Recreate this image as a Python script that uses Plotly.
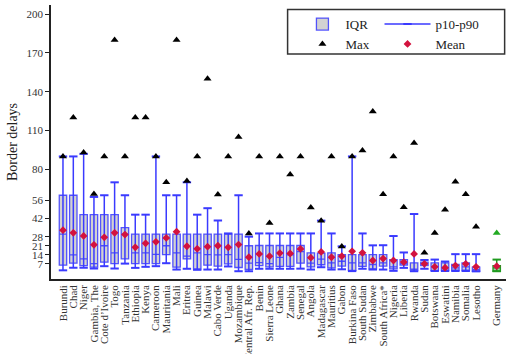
import plotly.graph_objects as go

countries = ["Burundi", "Chad", "Niger", "Gambia, The", "Cote d\u2019Ivoire", "Togo", "Tanzania",
             "Ethiopia", "Kenya", "Cameroon", "Mauritania", "Mali", "Eritrea", "Guinea", "Malawi",
             "Cabo Verde", "Uganda", "Mozambique", "Central Afr. Rep.", "Benin", "Sierra Leone",
             "Ghana", "Zambia", "Senegal", "Angola", "Madagascar", "Mauritius", "Gabon",
             "Burkina Faso", "South Sudan", "Zimbabwe", "South Africa*", "Nigeria", "Liberia",
             "Rwanda", "Sudan", "Botswana", "Eswatini", "Namibia", "Somalia", "Lesotho"]
positions = list(range(len(countries)))

q1 = [6, 7.5, 5.7, 4.4, 8.3, 7.2, 10.9, 7.2, 7.2, 7.2, 14.2, 4.4, 10.9, 3.2, 6, 5.2, 7, 4.2,
      2.8, 5.7, 4.7, 5, 5, 7.5, 4.6, 6.3, 3.9, 5.3, 1.9, 5, 3.2, 5.2, 3.2, 6, 2.1, 5.7, 1.9,
      2.1, 2.1, 2.1, 1.3]
median = [30, 14, 10.9, 7.2, 21, 15.5, 30, 15.5, 15.5, 14.4, 21, 15.5, 12.9, 15.5, 14.2, 14,
          14.2, 10.5, 7.5, 8, 7.2, 12, 14, 16.5, 7.6, 10.6, 7.8, 9, 7.8, 7.8, 6.5, 7.8, 4.7,
          7.2, 2.1, 7, 4.4, 4, 3.9, 4.7, 2.5]
q3 = [60, 60, 45, 45, 45, 45, 35, 30, 30, 30, 30, 30, 30, 30, 30, 30, 30, 30, 21, 21.2, 21.2,
      21.2, 21.2, 21.2, 15.5, 15.3, 15.5, 14.2, 14.2, 14.2, 14.2, 14.2, 10.3, 10.3, 7.8, 8.3,
      7.8, 7.8, 6.5, 7.8, 4.4]
p10 = [2, 4, 4, 3.4, 5.2, 3.4, 7.2, 3.9, 4.7, 5.2, 7.5, 2.6, 3.2, 2.4, 2.6, 2.6, 5, 1.3, 1.3,
       3.2, 3.2, 3.2, 3.2, 3.3, 2.6, 4.4, 2.6, 2.8, 1.4, 3.2, 2.6, 2.6, 1.6, 3.9, 1.3, 3.2,
       1.5, 1.5, 1.5, 1.5, 1.2]
p90 = [90, 90, 92, 58.7, 60, 70, 60, 45, 45, 90, 60, 60, 70, 45, 50, 40.5, 30.5, 60, 28,
       30.5, 30.5, 30.5, 30.5, 30.5, 30.5, 40.4, 30.5, 20.5, 90, 30.5, 21.3, 21.4, 28.5, 15.8,
       45.5, 10, 10.3, 8.8, 14.5, 14.5, 14.5]
mean = [33, 31, 28.6, 21.7, 27.5, 31, 29.6, 19.8, 22.9, 24, 27, 31.9, 20.6, 18.6, 20.3, 21,
        19.8, 21.9, 12.2, 14.7, 12.9, 15.3, 15, 18.5, 11.8, 16.2, 12.1, 12.9, 16.7, 15.5, 9.6,
        11.1, 9.6, 8.4, 14.7, 7, 4.7, 4, 5.7, 7, 4.7]
maxv = [90, 120, 93, 61, 90, 180, 90, 120, 120, 90, 70, 180, 71, 90, 150, 60.5, 90, 105, 30.5,
        90, 38.6, 90, 76, 90, 50.6, 40.4, 90, 20.5, 90, 94.6, 124.7, 60.7, 90, 50.7, 100.3,
        15.6, 30.8, 48.8, 70.5, 60.7, 35.6]

ref_country = "Germany"
ref_pos = 42
ref_q1, ref_median, ref_q3 = 1.3, 3.9, 5.7
ref_p10, ref_p90 = 1.3, 10.3
ref_mean, ref_max = 5.2, 30.8

BLUE = "rgba(45,45,255,0.8)"
WBLUE = "#3a3aff"
GREEN = "#1f9a1f"
RED = "#d3123e"
FONT = "Liberation Serif"


def whisker_xy(xs, lo, hi):
    wx, wy = [], []
    for x, a, b in zip(xs, lo, hi):
        wx += [x, x, None]
        wy += [a, b, None]
    return wx, wy


fig = go.Figure()

wx, wy = whisker_xy(positions, p10, p90)
fig.add_trace(go.Scatter(
    x=wx, y=wy, mode="lines+markers", name="p10-p90",
    line=dict(color=WBLUE, width=1.5),
    marker=dict(symbol="line-ew", size=6, color=WBLUE, line=dict(width=2, color=WBLUE)),
    legend="legend2", legendrank=1))
gx, gy = whisker_xy([ref_pos], [ref_p10], [ref_p90])
fig.add_trace(go.Scatter(
    x=gx, y=gy, mode="lines+markers", showlegend=False,
    line=dict(color=GREEN, width=1.5),
    marker=dict(symbol="line-ew", size=6, color=GREEN, line=dict(width=2, color=GREEN))))

fig.add_trace(go.Box(
    x=positions, q1=q1, median=median, q3=q3, lowerfence=q1, upperfence=q3,
    name="IQR", width=0.72, whiskerwidth=0, fillcolor="#d2d2d2",
    line=dict(color=BLUE, width=1.3), boxpoints=False, hoverinfo="skip",
    legend="legend", legendrank=1))
fig.add_trace(go.Box(
    x=[ref_pos], q1=[ref_q1], median=[ref_median], q3=[ref_q3], lowerfence=[ref_q1],
    upperfence=[ref_q3], width=0.72, whiskerwidth=0, fillcolor="#9fcf9f",
    line=dict(color=GREEN, width=1.3), boxpoints=False, showlegend=False))

fig.add_trace(go.Scatter(
    x=positions, y=maxv, mode="markers", name="Max",
    marker=dict(symbol="triangle-up", size=7, color="black"),
    legend="legend", legendrank=2))
fig.add_trace(go.Scatter(
    x=[ref_pos], y=[ref_max], mode="markers", showlegend=False,
    marker=dict(symbol="triangle-up", size=7, color="#22aa22")))

fig.add_trace(go.Scatter(
    x=positions + [ref_pos], y=mean + [ref_mean], mode="markers", name="Mean",
    marker=dict(symbol="diamond", size=6, color=RED),
    legend="legend2", legendrank=2))

yticks = [7, 14, 21, 28, 42, 56, 80, 110, 140, 170, 200]

fig.update_layout(
    width=506, height=354,
    margin=dict(l=51, r=0, t=5, b=75),
    paper_bgcolor="white", plot_bgcolor="white",
    font=dict(family=FONT, size=12, color="#222"),
    boxmode="overlay",
    xaxis=dict(range=[-1.16, 42.9], tickvals=positions + [ref_pos],
               ticktext=countries + [ref_country], tickangle=-90, automargin=False,
               showline=True, linecolor="#222", linewidth=1.5, ticks="",
               showgrid=False, zeroline=False,
               tickfont=dict(family=FONT, size=11, color="#333")),
    yaxis=dict(range=[-4.7, 207], tickvals=yticks, ticks="outside", ticklen=4,
               tickcolor="#222", showline=True, linecolor="#222", linewidth=1.5,
               showgrid=False, zeroline=False, automargin=False,
               tickfont=dict(family=FONT, size=11, color="#333"),
               title=dict(text="Border delays", font=dict(family=FONT, size=14, color="#222"),
                          standoff=6)),
    legend=dict(x=0.546, y=0.985, xanchor="left", yanchor="top", bgcolor="rgba(0,0,0,0)",
                font=dict(family=FONT, size=13, color="#222"), itemwidth=36, tracegroupgap=0),
    legend2=dict(x=0.722, y=0.985, xanchor="left", yanchor="top", bgcolor="rgba(0,0,0,0)",
                 font=dict(family=FONT, size=13, color="#222"), itemwidth=46, tracegroupgap=0),
    shapes=[dict(type="rect", xref="paper", yref="paper", x0=0.52, x1=0.997, y0=0.8215,
                 y1=0.984, line=dict(color="#333", width=1.5))],
)

fig.write_html("out.html", config={"displayModeBar": False},
               post_script="document.body.style.margin='0';document.body.style.padding='0';")
